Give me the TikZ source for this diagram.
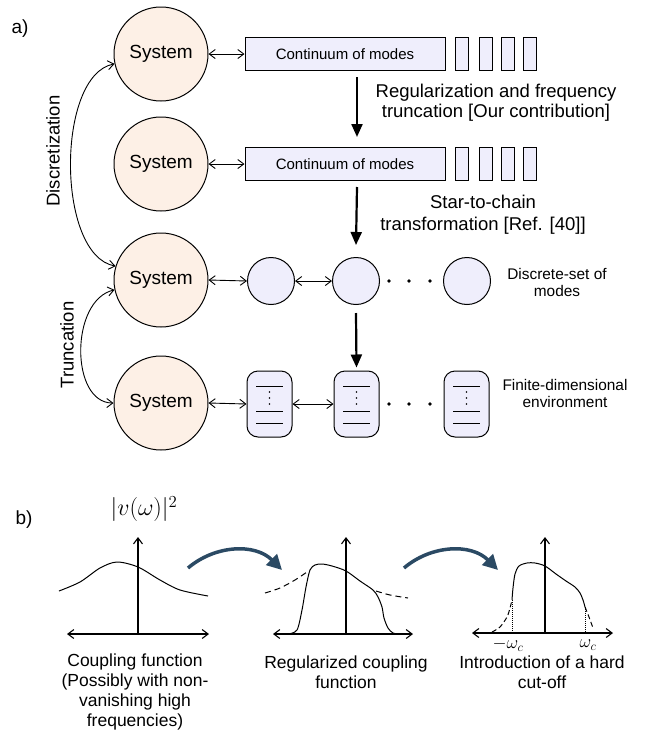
\RequirePackage{fix-cm}
\documentclass[tikz,border=0pt]{standalone}
\usepackage{fontspec}
\setmainfont{Liberation Sans}
\usetikzlibrary{arrows.meta,calc}
\definecolor{peach}{HTML}{FDF0E6}
\definecolor{lav}{HTML}{EFEEFC}
\definecolor{darkblue}{HTML}{2B4A64}
\tikzset{
  sys/.style={circle,draw,fill=peach,line width=1pt,minimum size=94pt,inner sep=0pt,font=\fontsize{19}{22}\selectfont},
  cont/.style={rectangle,draw,fill=lav,line width=1pt,minimum width=200pt,minimum height=33pt,inner sep=0pt,font=\fontsize{15}{17}\selectfont},
  seg/.style={rectangle,draw,fill=lav,line width=1pt,minimum width=13.5pt,minimum height=33pt,inner sep=0pt},
  modec/.style={circle,draw,fill=lav,line width=1pt,minimum size=47pt,inner sep=0pt},
  lvl/.style={rectangle,rounded corners=11pt,draw,fill=lav,line width=1pt,minimum width=45pt,minimum height=66pt,inner sep=0pt},
  conn/.style={{Straight Barb[length=6pt,width=9pt]}-{Straight Barb[length=6pt,width=9pt]},line width=0.9pt},
  uparrow/.style={-{Straight Barb[length=6pt,width=9pt]},line width=1.1pt},
  axisline/.style={{Straight Barb[length=6pt,width=9pt]}-{Straight Barb[length=6pt,width=9pt]},line width=1.1pt},
  thickarrow/.style={-{Triangle[length=13pt,width=11pt]},line width=2.2pt},
  flowarrow/.style={-{Triangle[length=15pt,width=15pt]},line width=3.5pt,draw=darkblue,color=darkblue},
  lbl/.style={align=center,font=\fontsize{18.5}{20}\selectfont},
  smalltxt/.style={align=center,font=\fontsize{15.4}{17}\selectfont},
  captxt/.style={align=center,font=\fontsize{17.5}{20}\selectfont},
  curve/.style={line width=1pt},
}
\begin{document}
\begin{tikzpicture}[x=1pt,y=-1pt]
\useasboundingbox (0,0) rectangle (647,734);

% ---------- panel a ----------
\node[font=\fontsize{19}{22}\selectfont] (la) at (20,29) {a)};

\node[sys] (s1) at (161,54) {System};
\node[sys] (s2) at (161,164) {System};
\node[sys] (s3) at (161,280) {System};
\node[sys] (s4) at (161,403) {System};

\node[cont] (c1) at (345,54) {Continuum of modes};
\node[cont] (c2) at (345,164) {Continuum of modes};
\foreach \i/\x in {1/462,2/486,3/508,4/530}{
  \node[seg] (ra\i) at (\x,54) {};
  \node[seg] (rb\i) at (\x,164) {};
}

\node[modec] (m1) at (271,281) {};
\node[modec] (m2) at (356,281) {};
\node[modec] (m3) at (467,281) {};

\node[lvl] (e1) at (269.5,404) {};
\node[lvl] (e2) at (356.5,404) {};
\node[lvl] (e3) at (466.5,404) {};
\foreach \b in {e1,e2,e3}{
  \draw[line width=1pt] ($(\b.center)+(-13.5,-18)$) -- ++(27,0);
  \draw[line width=1pt] ($(\b.center)+(-13.5,7)$) -- ++(27,0);
  \draw[line width=1pt] ($(\b.center)+(-13.5,19)$) -- ++(27,0);
  \foreach \d in {-12,-6,0}{
    \fill ($(\b.center)+(0,\d)$) circle (0.9);
  }
}

% horizontal couplings
\draw[conn] (s1.east) -- (c1.west);
\draw[conn] (s2.east) -- (c2.west);
\draw[conn] (s3.east) -- (m1.west);
\draw[conn] (m1.east) -- (m2.west);
\draw[conn] (s4.east) -- (e1.west);
\draw[conn] (e1.east) -- (e2.west);

% ellipsis dots
\foreach \x in {389,409,430}{
  \fill (\x,281) circle (1.9);
  \fill (\x,404) circle (1.9);
}

% vertical transformation arrows
\draw[thickarrow] ($(c1.south)+(12,6)$) -- ($(c2.north)+(12,-10)$);
\draw[thickarrow] ($(c2.south)+(12,6)$) -- ($(m2.north)+(0,-12)$);
\draw[thickarrow] ($(m2.south)+(0,8)$) -- ($(e2.north)+(0,-3)$);

\node[lbl] (t1) at (496,103) {Regularization and frequency\\truncation [Our contribution]};
\node[lbl,font=\fontsize{18.5}{22}\selectfont] (t2) at (483,215) {Star-to-chain\\transformation [Ref. [40]]};
\node[smalltxt] (t3) at (557,282) {Discrete-set of\\modes};
\node[smalltxt] (t4) at (565,393) {Finite-dimensional\\environment};

% left curved arrows
\draw[conn] (s1.192) .. controls (56,75) and (56,255) .. (s3.163);
\draw[conn] (s3.192) .. controls (70,300) and (70,403) .. (s4.180);
\node[rotate=90,font=\fontsize{18.5}{22}\selectfont] (dlab) at (53,151) {Discretization};
\node[rotate=90,font=\fontsize{18.5}{22}\selectfont] (tlab) at (67,345) {Truncation};

% ---------- panel b ----------
\node[font=\fontsize{19}{22}\selectfont] (lb) at (24,520) {b)};
\node[font=\fontsize{24}{27}\selectfont,inner sep=0pt] (vlab) at (144,509) {$|v(\omega)|^{2}$};

% graph 1
\coordinate (g1l) at (67,634);
\coordinate (g1r) at (209,634);
\coordinate (g1o) at (138,634);
\coordinate (g1t) at (138,537);
\draw[axisline] (g1l) -- (g1r);
\draw[uparrow] (g1o) -- (g1t);
\draw[curve] plot[smooth] coordinates {(59,591) (80,582) (100,568) (117,562) (138,567) (160,580) (180,590) (208,596)};

% graph 2
\coordinate (g2l) at (273,634);
\coordinate (g2r) at (413,634);
\coordinate (g2o) at (346,634);
\coordinate (g2t) at (346,537);
\draw[axisline] (g2l) -- (g2r);
\draw[uparrow] (g2o) -- (g2t);
\draw[curve] plot[smooth] coordinates {(288,634) (297,630) (302,610) (306,587) (310,570) (315,565) (322,564) (332,566) (346,571) (360,581) (373,590) (378,597) (382,607) (384,618) (388,628) (393,633) (400,634)};
\draw[curve,dash pattern=on 6pt off 4pt] plot[smooth] coordinates {(265,593) (280,588) (295,580) (307,572)};
\draw[curve,dash pattern=on 6pt off 4pt] plot[smooth] coordinates {(376,591) (390,595) (408,598)};

% graph 3
\coordinate (g3l) at (472,633);
\coordinate (g3r) at (613,633);
\coordinate (g3o) at (545,633);
\coordinate (g3t) at (545,537);
\draw[axisline] (g3l) -- (g3r);
\draw[uparrow] (g3o) -- (g3t);
\draw[curve] plot[smooth] coordinates {(512,600) (513,588) (515,574) (519,566) (527,563) (535,563) (545,566) (556,574) (566,581) (575,587) (580,593) (583,600) (585,607)};
\draw[curve,dash pattern=on 5pt off 3pt] plot[smooth] coordinates {(492,632) (500,627) (507,617) (510,608) (512,600)};
\draw[curve,dash pattern=on 5pt off 3pt] plot[smooth] coordinates {(585,607) (589,617) (593,628)};
\draw[line width=1pt,densely dotted] (512,600) -- (512,633);
\draw[line width=1pt,densely dotted] (585,607) -- (585,633);
\node[font=\fontsize{18}{20}\selectfont] (wm) at (508,645) {$-\omega_c$};
\node[font=\fontsize{18}{20}\selectfont] (wp) at (588,645) {$\omega_c$};

% flow arrows
\coordinate (f1s) at (188,568);
\coordinate (f1e) at (282,570);
\coordinate (f2s) at (404,568);
\coordinate (f2e) at (498,570);
\draw[flowarrow] (f1s) .. controls (215,545) and (255,543) .. (f1e);
\draw[flowarrow] (f2s) .. controls (431,545) and (471,543) .. (f2e);

% captions
\node[captxt] (cap1) at (135,692) {Coupling function\\(Possibly with non-\\vanishing high\\frequencies)};
\node[captxt] (cap2) at (346,672) {Regularized coupling\\function};
\node[captxt] (cap3) at (542,672) {Introduction of a hard\\cut-off};
\end{tikzpicture}
\end{document}
